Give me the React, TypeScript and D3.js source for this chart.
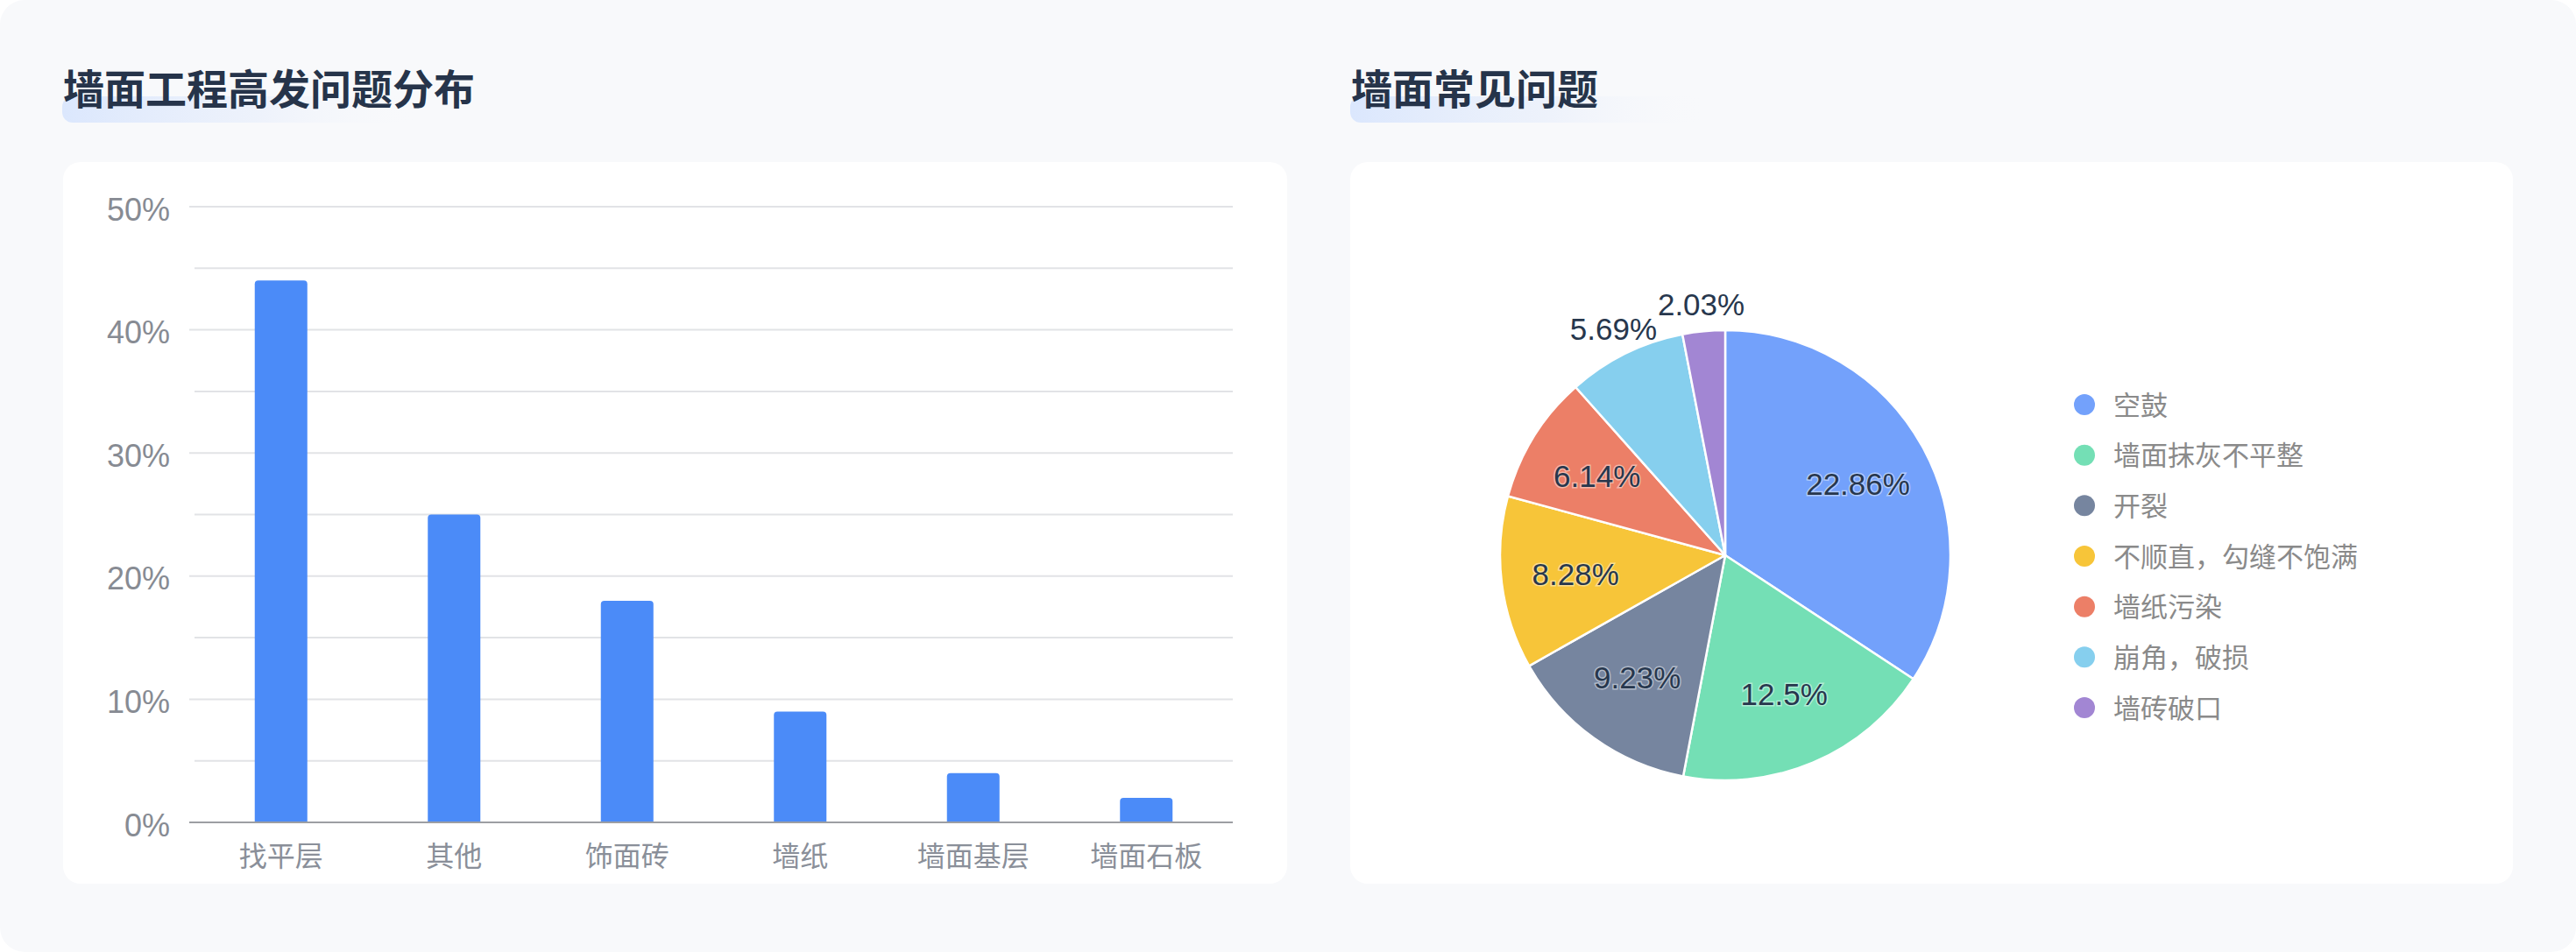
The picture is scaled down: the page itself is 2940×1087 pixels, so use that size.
import { useEffect } from 'react';
import * as d3 from 'd3';

const W = 2940;
const H = 1087;

// bar chart data
const categories = ['找平层', '其他', '饰面砖', '墙纸', '墙面基层', '墙面石板'];
const shares = [44, 25, 18, 9, 4, 2];
const yTicks = [0, 10, 20, 30, 40, 50];
const yMinorTicks = [5, 15, 25, 35, 45];

// pie chart data
const issueNames = ['空鼓', '墙面抹灰不平整', '开裂', '不顺直，勾缝不饱满', '墙纸污染', '崩角，破损', '墙砖破口'];
const issueValues = [22.86, 12.5, 9.23, 8.28, 6.14, 5.69, 2.03];
const issueColors = ['#73a1fb', '#74dfb5', '#76859f', '#f7c539', '#ec7f67', '#86cfee', '#a286d3'];

const FONT = "'Liberation Sans', 'Noto Sans CJK SC', sans-serif";

function Title({ x, text }: { x: number; text: string }) {
  return (
    <g>
      <rect x={x} y={110} width={410} height={30} rx={12} fill={`url(#hl)`} />
      <text
        x={x + 1}
        y={102}
        dominantBaseline='central'
        fontSize={47}
        fontWeight={700}
        fill='#26344a'
        fontFamily={FONT}
      >
        {text}
      </text>
    </g>
  );
}

function BarPanel() {
  const x = d3.scaleBand<string>().domain(categories).range([222, 1407]).padding(0);
  const y = d3.scaleLinear().domain([0, 50]).range([939, 236]);
  const barW = 60;
  const r = 4;

  return (
    <g>
      <rect x={72} y={185} width={1397} height={824} rx={20} fill='#ffffff' />
      {yMinorTicks.map((t) => (
        <line key={`m${t}`} x1={222} x2={1407} y1={y(t)} y2={y(t)} stroke='#e2e3e6' strokeWidth={2} />
      ))}
      {yTicks.filter((t) => t > 0).map((t) => (
        <line key={`g${t}`} x1={216} x2={1407} y1={y(t)} y2={y(t)} stroke='#e2e3e6' strokeWidth={2} />
      ))}
      {yTicks.map((t) => (
        <text
          key={`l${t}`}
          x={194}
          y={y(t) + 3}
          textAnchor='end'
          dominantBaseline='central'
          fontSize={36}
          fill='#878b93'
          fontFamily={FONT}
        >
          {t}%
        </text>
      ))}
      {categories.map((c, i) => {
        const cx = (x(c) ?? 0) + x.bandwidth() / 2;
        const x0 = cx - barW / 2;
        const x1 = cx + barW / 2;
        const top = y(shares[i]);
        const base = y(0);
        const d = `M${x0},${base}V${top + r}Q${x0},${top} ${x0 + r},${top}H${x1 - r}Q${x1},${top} ${x1},${top + r}V${base}Z`;
        return (
          <g key={c}>
            <path d={d} fill='#4b8bf8' />
            <text
              x={cx}
              y={978}
              textAnchor='middle'
              dominantBaseline='central'
              fontSize={32}
              fill='#8a8f99'
              fontFamily={FONT}
            >
              {c}
            </text>
          </g>
        );
      })}
      <line x1={216} x2={1407} y1={y(0)} y2={y(0)} stroke='#9c9ea3' strokeWidth={2} />
    </g>
  );
}

function PiePanel() {
  const cx = 1969;
  const cy = 634;
  const R = 257;
  const total = d3.sum(issueValues);
  const pie = d3.pie<number>().sort(null).value((d) => d);
  const arcs = pie(issueValues);
  const arcGen = d3.arc<d3.PieArcDatum<number>>().innerRadius(0).outerRadius(R);

  const legendY = d3.scalePoint<string>().domain(issueNames).range([462, 808]);

  return (
    <g>
      <rect x={1541} y={185} width={1327} height={824} rx={20} fill='#ffffff' />
      <g transform={`translate(${cx},${cy})`}>
        {arcs.map((a, i) => (
          <path key={i} d={arcGen(a) ?? ''} fill={issueColors[i]} stroke='#ffffff' strokeWidth={2.5} strokeLinejoin='round' />
        ))}
        {arcs.map((a, i) => {
          const mid = (a.startAngle + a.endAngle) / 2;
          const outside = a.value / total < 0.09;
          const dist = outside ? R * 1.12 : R * 0.67;
          const lx = Math.sin(mid) * dist;
          const ly = -Math.cos(mid) * dist;
          return (
            <text
              key={`t${i}`}
              x={lx}
              y={ly}
              textAnchor='middle'
              dominantBaseline='central'
              fontSize={35}
              fill='#27374d'
              stroke='rgba(255,255,255,0.45)'
              strokeWidth={3}
              paintOrder='stroke'
              fontFamily={FONT}
            >
              {issueValues[i]}%
            </text>
          );
        })}
      </g>
      {issueNames.map((n, i) => (
        <g key={n}>
          <circle cx={2379} cy={legendY(n)} r={12} fill={issueColors[i]} />
          <text
            x={2412}
            y={(legendY(n) ?? 0) + 1}
            dominantBaseline='central'
            fontSize={31}
            fill='#8a8a8a'
            fontFamily={FONT}
          >
            {n}
          </text>
        </g>
      ))}
    </g>
  );
}

export default function App() {
  useEffect(() => {
    document.body.style.margin = '0';
    document.body.style.background = '#ffffff';
  }, []);

  return (
    <svg
      width={W}
      height={H}
      viewBox={`0 0 ${W} ${H}`}
      style={{ position: 'absolute', left: 0, top: 0, display: 'block' }}
    >
      <defs>
        <linearGradient id='hl' x1='0' x2='1' y1='0' y2='0'>
          <stop offset='0%' stopColor='#dbe7fd' />
          <stop offset='55%' stopColor='#e9effb' stopOpacity={0.7} />
          <stop offset='100%' stopColor='#f8f9fb' stopOpacity={0} />
        </linearGradient>
      </defs>
      <rect x={0} y={0} width={W} height={H} rx={28} fill='#f8f9fb' />
      <Title x={71} text='墙面工程高发问题分布' />
      <Title x={1541} text='墙面常见问题' />
      <BarPanel />
      <PiePanel />
    </svg>
  );
}
